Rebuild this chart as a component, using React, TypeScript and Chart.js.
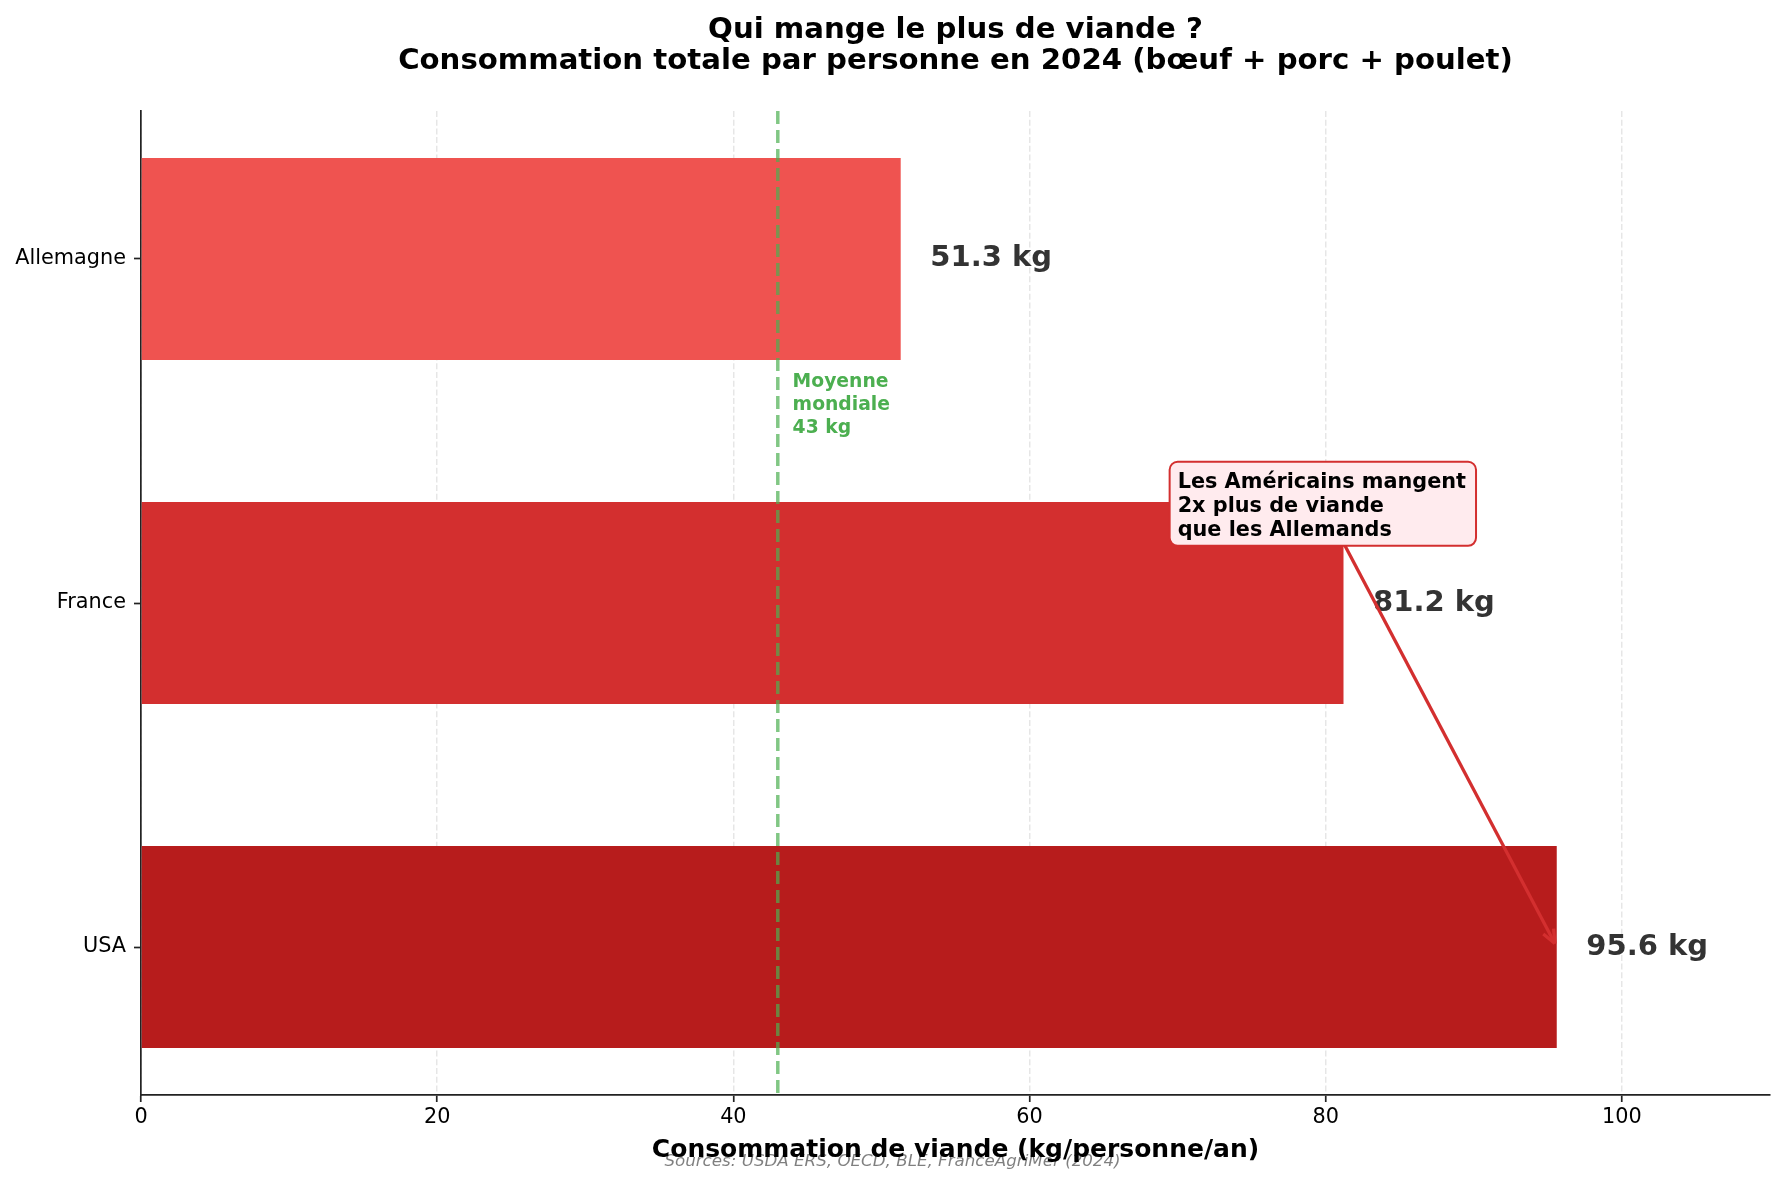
import { useEffect, useRef } from "react"
import { Chart, registerables } from "chart.js"

Chart.register(...registerables)

const FONT = "'DejaVu Sans', sans-serif"

// données (bas -> haut)
const countries = ["USA", "France", "Allemagne"]
const consumption = [95.6, 81.2, 51.3]
const barColors = ["#B71C1C", "#D32F2F", "#EF5350"]
const worldAverage = 43
const xTicks = [0, 20, 40, 60, 80, 100]

const titleLines = [
  "Qui mange le plus de viande ?",
  "Consommation totale par personne en 2024 (bœuf + porc + poulet)",
]
const xTitle = "Consommation de viande (kg/personne/an)"
const sourceText = "Sources: USDA ERS, OECD, BLE, FranceAgriMer (2024)"
const avgLabel = ["Moyenne", "mondiale", `${worldAverage} kg`]
const noteLines = ["Les Américains mangent", "2x plus de viande", "que les Allemands"]

const overlay = {
  id: "overlay",
  afterDatasetsDraw(chart: any) {
    const { ctx, chartArea, scales } = chart
    const xs = scales.x
    const ys = scales.y
    ctx.save()

    // ligne moyenne mondiale
    const ax = xs.getPixelForValue(worldAverage)
    ctx.strokeStyle = "rgba(76, 175, 80, 0.7)"
    ctx.lineWidth = 3.5
    ctx.setLineDash([13, 6])
    ctx.beginPath()
    ctx.moveTo(ax, chartArea.top)
    ctx.lineTo(ax, chartArea.bottom)
    ctx.stroke()
    ctx.setLineDash([])

    // valeurs
    ctx.font = `bold 29px ${FONT}`
    ctx.fillStyle = "#333333"
    ctx.textAlign = "left"
    ctx.textBaseline = "middle"
    consumption.forEach((v, i) => {
      ctx.fillText(`${v.toFixed(1)} kg`, xs.getPixelForValue(v + 2), ys.getPixelForValue(i))
    })

    // texte moyenne
    ctx.textBaseline = "alphabetic"
    ctx.font = `bold 18.75px ${FONT}`
    ctx.fillStyle = "#4CAF50"
    const gy = ys.getPixelForValue(1.7) + 24.5
    avgLabel.forEach((t, i) => ctx.fillText(t, xs.getPixelForValue(worldAverage + 1), gy + i * 23.3))

    // annotation
    ctx.font = `bold 20.8px ${FONT}`
    const tx = xs.getPixelForValue(70)
    const ty = ys.getPixelForValue(1.3) - 12
    const maxW = Math.max(...noteLines.map((t) => ctx.measureText(t).width))
    const bx = tx - 8
    const by = ty - 26
    const bw = maxW + 18
    const bh = 24 * 2 + 36
    const cx = bx + bw / 2
    const cy = by + bh / 2
    const px = xs.getPixelForValue(consumption[0])
    const py = ys.getPixelForValue(0)
    const ang = Math.atan2(py - cy, px - cx)
    const ex = px - Math.cos(ang) * 4
    const ey = py - Math.sin(ang) * 4
    ctx.strokeStyle = "#D32F2F"
    ctx.lineWidth = 3.3
    ctx.beginPath()
    ctx.moveTo(cx, cy)
    ctx.lineTo(ex, ey)
    ctx.stroke()
    ctx.beginPath()
    for (const s of [-1, 1]) {
      ctx.moveTo(ex, ey)
      ctx.lineTo(ex - Math.cos(ang + s * 0.4) * 15, ey - Math.sin(ang + s * 0.4) * 15)
    }
    ctx.stroke()

    ctx.fillStyle = "#FFEBEE"
    ctx.strokeStyle = "#D32F2F"
    ctx.lineWidth = 2
    ctx.beginPath()
    ctx.roundRect(bx, by, bw, bh, 8)
    ctx.fill()
    ctx.stroke()
    ctx.fillStyle = "#000000"
    noteLines.forEach((t, i) => ctx.fillText(t, tx, ty + i * 24))

    // titre
    const mid = (chartArea.left + chartArea.right) / 2
    ctx.textAlign = "center"
    ctx.font = `bold 29.2px ${FONT}`
    ctx.fillText(titleLines[0], mid, 38)
    ctx.fillText(titleLines[1], mid, 69)

    // titre axe x + sources
    ctx.font = `bold 25px ${FONT}`
    ctx.fillText(xTitle, mid, 1157)
    ctx.font = `italic 16.7px ${FONT}`
    ctx.fillStyle = "rgba(0, 0, 0, 0.5)"
    ctx.fillText(sourceText, chart.width / 2, 1166)

    ctx.restore()
  },
}

export default function App() {
  const chartRef = useRef<HTMLCanvasElement>(null)
  const chartInstance = useRef<Chart | null>(null)

  useEffect(() => {
    if (!chartRef.current) return
    if (chartInstance.current) chartInstance.current.destroy()

    const ctx = chartRef.current.getContext("2d")
    if (!ctx) return

    chartInstance.current = new Chart(ctx, {
      type: "bar",
      data: {
        datasets: [
          {
            data: countries.map((_, i) => ({ x: consumption[i], y: i })),
            backgroundColor: barColors,
            borderWidth: 0,
            barPercentage: 0.587,
            categoryPercentage: 1,
          },
        ],
      },
      options: {
        indexAxis: "y",
        animation: false,
        responsive: false,
        devicePixelRatio: 1,
        layout: { padding: { top: 111, right: 15, left: 0, bottom: 0 } },
        plugins: {
          legend: { display: false },
          title: { display: false },
          tooltip: { enabled: false },
        },
        scales: {
          x: {
            type: "linear",
            position: "bottom",
            min: 0,
            max: 110,
            afterBuildTicks: (s: any) => {
              s.ticks = xTicks.map((v) => ({ value: v }))
            },
            afterFit: (s: any) => {
              s.height = 91
            },
            grid: {
              color: "rgba(200, 200, 200, 0.45)",
              lineWidth: 1.5,
              tickColor: "#222222",
              tickLength: 7,
              tickWidth: 1.7,
              tickBorderDash: [],
            },
            border: { display: true, color: "#222222", width: 1.7, dash: [6, 2.7] },
            ticks: {
              font: { family: FONT, size: 20.8 },
              color: "#000000",
              padding: 3,
            },
          },
          y: {
            type: "linear",
            min: -0.43,
            max: 2.43,
            offset: false,
            afterBuildTicks: (s: any) => {
              s.ticks = countries.map((_, i) => ({ value: i }))
            },
            afterFit: (s: any) => {
              s.width = 141
            },
            grid: {
              offset: false,
              drawOnChartArea: false,
              tickColor: "#222222",
              tickLength: 7,
              tickWidth: 1.7,
            },
            border: { display: true, color: "#222222", width: 1.7 },
            ticks: {
              font: { family: FONT, size: 20.8 },
              color: "#000000",
              padding: 8,
              callback: (v: any) => countries[v] ?? "",
            },
          },
        },
      } as any,
      plugins: [overlay],
    })

    return () => {
      if (chartInstance.current) {
        chartInstance.current.destroy()
        chartInstance.current = null
      }
    }
  }, [])

  return (
    <div style={{ position: "absolute", left: 0, top: 0, width: 1785, height: 1186, background: "#fff" }}>
      <canvas ref={chartRef} width={1785} height={1186} />
    </div>
  )
}
